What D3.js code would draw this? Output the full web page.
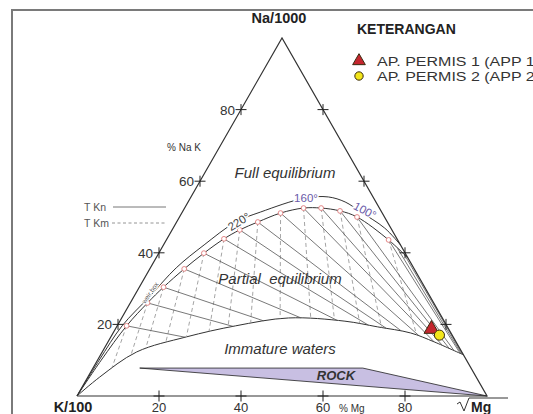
<!DOCTYPE html>
<html>
<head>
<meta charset="utf-8">
<script src="https://cdn.jsdelivr.net/npm/d3@7"></script>
<style>
  body { margin: 0; background: #fff; }
  svg { display: block; font-family: "Liberation Sans", Arial, sans-serif; }
</style>
</head>
<body>
<div id="chart"></div>
<script>
// Values, as [% Mg, % Na]
const tickValues = [20, 40, 60, 80];

// full equilibrium line (outer curve with temperature labels)
const fullEquilibrium = [
    [0, 0], [0.4, 10], [1.2, 19.6], [3.8, 27.7], [6.3, 35.8], [9.9, 42.2],
    [14.4, 48.6], [19.1, 51.4], [28, 55.3], [33.5, 55.6], [38.3, 54.2],
    [43.5, 51.4], [51.6, 46.9], [57.8, 42.2]
];

// inner curve with the isotherm intersections (small red circles)
const isothermPoints = [
    [2.3, 19.6], [4.2, 26.0], [5.9, 30.4], [8.4, 35.5], [11.0, 39.9],
    [13.9, 43.9], [16.5, 46.4], [19.8, 48.6], [24.1, 51.1], [29.0, 52.5],
    [33.3, 52.5], [38.3, 51.7], [43.3, 50.0], [54.2, 43.6]
];
const innerCurve = [[0, 0], [0.9, 10]].concat(isothermPoints, [[61.5, 38.5]]);
// isotherm origins without a circle, close to the Na-Mg side
const extraOrigins = [[57.6, 41.2], [60.2, 39.4]];

// immature waters boundary
const immatureCurve = [
    [0, 0], [2.9, 5.3], [8.4, 12.3], [18.4, 16.5], [28.9, 19.6], [40.7, 21.8],
    [54.9, 20.9], [63.7, 19.3], [72.6, 17.6], [79.6, 15.1], [88.5, 11.5]
];

// rock dissolution band
const rockBand = [[11.4, 7.8], [65.8, 7.8], [100, 0], [11.4, 7.8]];

// samples
const samples = [
    { name: "AP. PERMIS 1 (APP 1)", mg: 77.1, na: 18.7, shape: "triangle", color: "#c4262e" },
    { name: "AP. PERMIS 2 (APP 2)", mg: 79.9, na: 17.0, shape: "circle", color: "#f3e61a" }
];

const width = 533, height = 414;
const svg = d3.select("#chart").append("svg")
    .attr("width", width)
    .attr("height", height);

// outer frame
svg.append("rect")
    .attr("x", 12).attr("y", 10)
    .attr("width", 600).attr("height", 500)
    .attr("fill", "none")
    .attr("stroke", "#7a7a7a")
    .attr("stroke-width", 2);

const x = d3.scaleLinear().domain([0, 100]).range([77, 487]);
const y = d3.scaleLinear().domain([0, 100]).range([396, 38]);
const proj = ([mg, na]) => [x(mg + na / 2), y(na)];

const curve = d3.line().x(d => proj(d)[0]).y(d => proj(d)[1])
    .curve(d3.curveCatmullRom.alpha(0.5));
const straight = d3.line().x(d => proj(d)[0]).y(d => proj(d)[1]);

// immature curve first (needed for intersections)
const immaturePath = svg.append("path")
    .attr("d", curve(immatureCurve))
    .attr("fill", "none")
    .attr("stroke", "#333")
    .attr("stroke-width", 1);

// dense polyline along the immature curve
const pNode = immaturePath.node();
const totalLen = pNode.getTotalLength();
const poly = d3.range(0, 401).map(i => {
    const p = pNode.getPointAtLength(totalLen * i / 400);
    return [p.x, p.y];
});

function hitImmature(p, dir) {
    let best = null;
    for (let i = 0; i < poly.length - 1; i++) {
        const a = poly[i], b = poly[i + 1];
        const ex = b[0] - a[0], ey = b[1] - a[1];
        const den = dir[0] * ey - dir[1] * ex;
        if (Math.abs(den) < 1e-9) continue;
        const t = ((a[0] - p[0]) * ey - (a[1] - p[1]) * ex) / den;
        const s = ((a[0] - p[0]) * dir[1] - (a[1] - p[1]) * dir[0]) / den;
        if (t > 1e-3 && s >= 0 && s <= 1 && (best === null || t < best)) best = t;
    }
    if (best === null) return null;
    return [p[0] + dir[0] * best, p[1] + dir[1] * best];
}

const mgVertex = proj([100, 0]);
const dashFocus = [x(50), -120]; // K-Mg isotherms fan out from above the apex

const isoG = svg.append("g");
// K-Mg isotherms (dashed)
isothermPoints.forEach(d => {
    const p = proj(d);
    const end = hitImmature(p, [p[0] - dashFocus[0], p[1] - dashFocus[1]]);
    if (!end) return;
    isoG.append("line")
        .attr("x1", p[0]).attr("y1", p[1])
        .attr("x2", end[0]).attr("y2", end[1])
        .attr("stroke", "#9a9a9a")
        .attr("stroke-width", 0.9)
        .attr("stroke-dasharray", "4,3");
});
// Na-K isotherms (solid), radiating from the Mg corner
isothermPoints.concat(extraOrigins).forEach(d => {
    const p = proj(d);
    const end = hitImmature(p, [mgVertex[0] - p[0], mgVertex[1] - p[1]]);
    if (!end) return;
    isoG.append("line")
        .attr("x1", p[0]).attr("y1", p[1])
        .attr("x2", end[0]).attr("y2", end[1])
        .attr("stroke", "#555")
        .attr("stroke-width", 0.8);
});

// rock band
svg.append("path")
    .attr("d", straight(rockBand))
    .attr("fill", "#c8bfe2")
    .attr("stroke", "#222")
    .attr("stroke-width", 0.8);

// equilibrium curves
svg.append("path")
    .attr("d", curve(fullEquilibrium))
    .attr("fill", "none")
    .attr("stroke", "#333")
    .attr("stroke-width", 1);
svg.append("path")
    .attr("d", curve(innerCurve))
    .attr("fill", "none")
    .attr("stroke", "#333")
    .attr("stroke-width", 1);

svg.append("g").selectAll("circle")
    .data(isothermPoints)
    .join("circle")
    .attr("cx", d => proj(d)[0])
    .attr("cy", d => proj(d)[1])
    .attr("r", 2.4)
    .attr("fill", "#fff")
    .attr("stroke", "#e07a7a")
    .attr("stroke-width", 0.9);

// triangle
const corners = [[0, 0], [100, 0], [0, 100], [0, 0]];
svg.append("path")
    .attr("d", straight(corners))
    .attr("fill", "none")
    .attr("stroke", "#333")
    .attr("stroke-width", 1.2);

// tick crosses on the three sides
const tickPts = [];
tickValues.forEach(v => {
    tickPts.push([0, v], [100 - v, v], [v, 0]);
});
const tickG = svg.append("g").attr("stroke", "#222").attr("stroke-width", 1);
tickPts.forEach(d => {
    const [px, py] = proj(d);
    tickG.append("line").attr("x1", px - 5.5).attr("x2", px + 5.5).attr("y1", py).attr("y2", py);
    tickG.append("line").attr("x1", px).attr("x2", px).attr("y1", py - 5.5).attr("y2", py + 5.5);
});

// tick labels
svg.append("g").selectAll("text")
    .data(tickValues)
    .join("text")
    .attr("x", d => proj([0, d])[0] - 6)
    .attr("y", d => proj([0, d])[1] + 5)
    .attr("text-anchor", "end")
    .attr("font-size", 13.5)
    .attr("fill", "#333")
    .text(d => d);
svg.append("g").selectAll("text")
    .data(tickValues)
    .join("text")
    .attr("x", d => proj([d, 0])[0])
    .attr("y", 412)
    .attr("text-anchor", "middle")
    .attr("font-size", 13)
    .attr("fill", "#333")
    .text(d => d);

svg.append("text").attr("x", 339).attr("y", 412)
    .attr("font-size", 10).attr("fill", "#333").text("% Mg");
svg.append("text").attr("x", 167).attr("y", 151)
    .attr("font-size", 10).attr("fill", "#333").text("% Na K");

// corner labels
svg.append("text").attr("x", 279).attr("y", 23)
    .attr("text-anchor", "middle").attr("font-size", 14.5).attr("font-weight", "bold")
    .attr("fill", "#222").text("Na/1000");
svg.append("text").attr("x", 73).attr("y", 412)
    .attr("text-anchor", "middle").attr("font-size", 14.5).attr("font-weight", "bold")
    .attr("fill", "#222").text("K/100");
// square root of Mg
svg.append("path")
    .attr("d", "M457,404 L460,402 L464,411 L469,398 L508,398")
    .attr("fill", "none").attr("stroke", "#333").attr("stroke-width", 1);
svg.append("text").attr("x", 471).attr("y", 411.5)
    .attr("font-size", 14).attr("font-weight", "bold")
    .attr("fill", "#222").text("Mg");

// T Kn / T Km key
svg.append("text").attr("x", 84).attr("y", 211)
    .attr("font-size", 10.5).attr("fill", "#555").text("T Kn");
svg.append("line").attr("x1", 113).attr("x2", 166).attr("y1", 207).attr("y2", 207)
    .attr("stroke", "#666").attr("stroke-width", 0.9);
svg.append("text").attr("x", 84).attr("y", 227)
    .attr("font-size", 10.5).attr("fill", "#555").text("T Km");
svg.append("line").attr("x1", 112).attr("x2", 166).attr("y1", 223).attr("y2", 223)
    .attr("stroke", "#888").attr("stroke-width", 0.9).attr("stroke-dasharray", "3,2.5");

// region labels
const regionLabels = [
    { text: "Full equilibrium", x: 285, y: 178 },
    { text: "Partial  equilibrium", x: 280, y: 284 },
    { text: "Immature waters", x: 280, y: 354 }
];
svg.append("g").selectAll("text")
    .data(regionLabels)
    .join("text")
    .attr("x", d => d.x).attr("y", d => d.y)
    .attr("text-anchor", "middle")
    .attr("font-size", 15).attr("font-style", "italic")
    .attr("fill", "#333")
    .attr("xml:space", "preserve")
    .style("white-space", "pre")
    .text(d => d.text);

svg.append("text").attr("x", 336).attr("y", 380)
    .attr("text-anchor", "middle").attr("font-size", 13)
    .attr("font-weight", "bold").attr("font-style", "italic")
    .attr("fill", "#333").text("ROCK");

// temperature labels on the equilibrium line
const tempLabels = [
    { text: "220°", x: 241, y: 225, rot: -32, color: "#444" },
    { text: "160°", x: 306, y: 202, rot: 0, color: "#6a5aa8" },
    { text: "100°", x: 363, y: 214, rot: 28, color: "#6a5aa8" }
];
svg.append("g").selectAll("text")
    .data(tempLabels)
    .join("text")
    .attr("transform", d => `translate(${d.x},${d.y}) rotate(${d.rot})`)
    .attr("text-anchor", "middle")
    .attr("font-size", 11.5)
    .attr("fill", d => d.color)
    .attr("stroke", "#fff").attr("stroke-width", 3).attr("paint-order", "stroke")
    .text(d => d.text);

svg.append("text")
    .attr("transform", "translate(152,294) rotate(-56)")
    .attr("text-anchor", "middle")
    .attr("font-size", 6.5)
    .attr("fill", "#555")
    .attr("stroke", "#fff").attr("stroke-width", 2).attr("paint-order", "stroke")
    .text("weir box");

// sample points
const sym = (shape, size) => d3.symbol()
    .type(shape === "triangle" ? d3.symbolTriangle : d3.symbolCircle)
    .size(size)();
svg.append("g").selectAll("path")
    .data(samples)
    .join("path")
    .attr("transform", d => `translate(${proj([d.mg, d.na])})`)
    .attr("d", d => sym(d.shape, d.shape === "triangle" ? 95 : 80))
    .attr("fill", d => d.color)
    .attr("stroke", "#3a2a10")
    .attr("stroke-width", 1);

// legend
svg.append("text").attr("x", 357).attr("y", 34)
    .attr("font-size", 14).attr("font-weight", "bold")
    .attr("fill", "#222").text("KETERANGAN");
const legend = svg.append("g").selectAll("g")
    .data(samples)
    .join("g")
    .attr("transform", (d, i) => `translate(359,${61 + i * 15})`);
legend.append("path")
    .attr("d", d => sym(d.shape, d.shape === "triangle" ? 70 : 55))
    .attr("fill", d => d.color)
    .attr("stroke", "#3a2a10")
    .attr("stroke-width", 1);
legend.append("text")
    .attr("x", 18).attr("y", 4.5)
    .attr("font-size", 12.5)
    .attr("textLength", 163)
    .attr("lengthAdjust", "spacingAndGlyphs")
    .attr("fill", "#333")
    .text(d => d.name);
</script>
</body>
</html>
